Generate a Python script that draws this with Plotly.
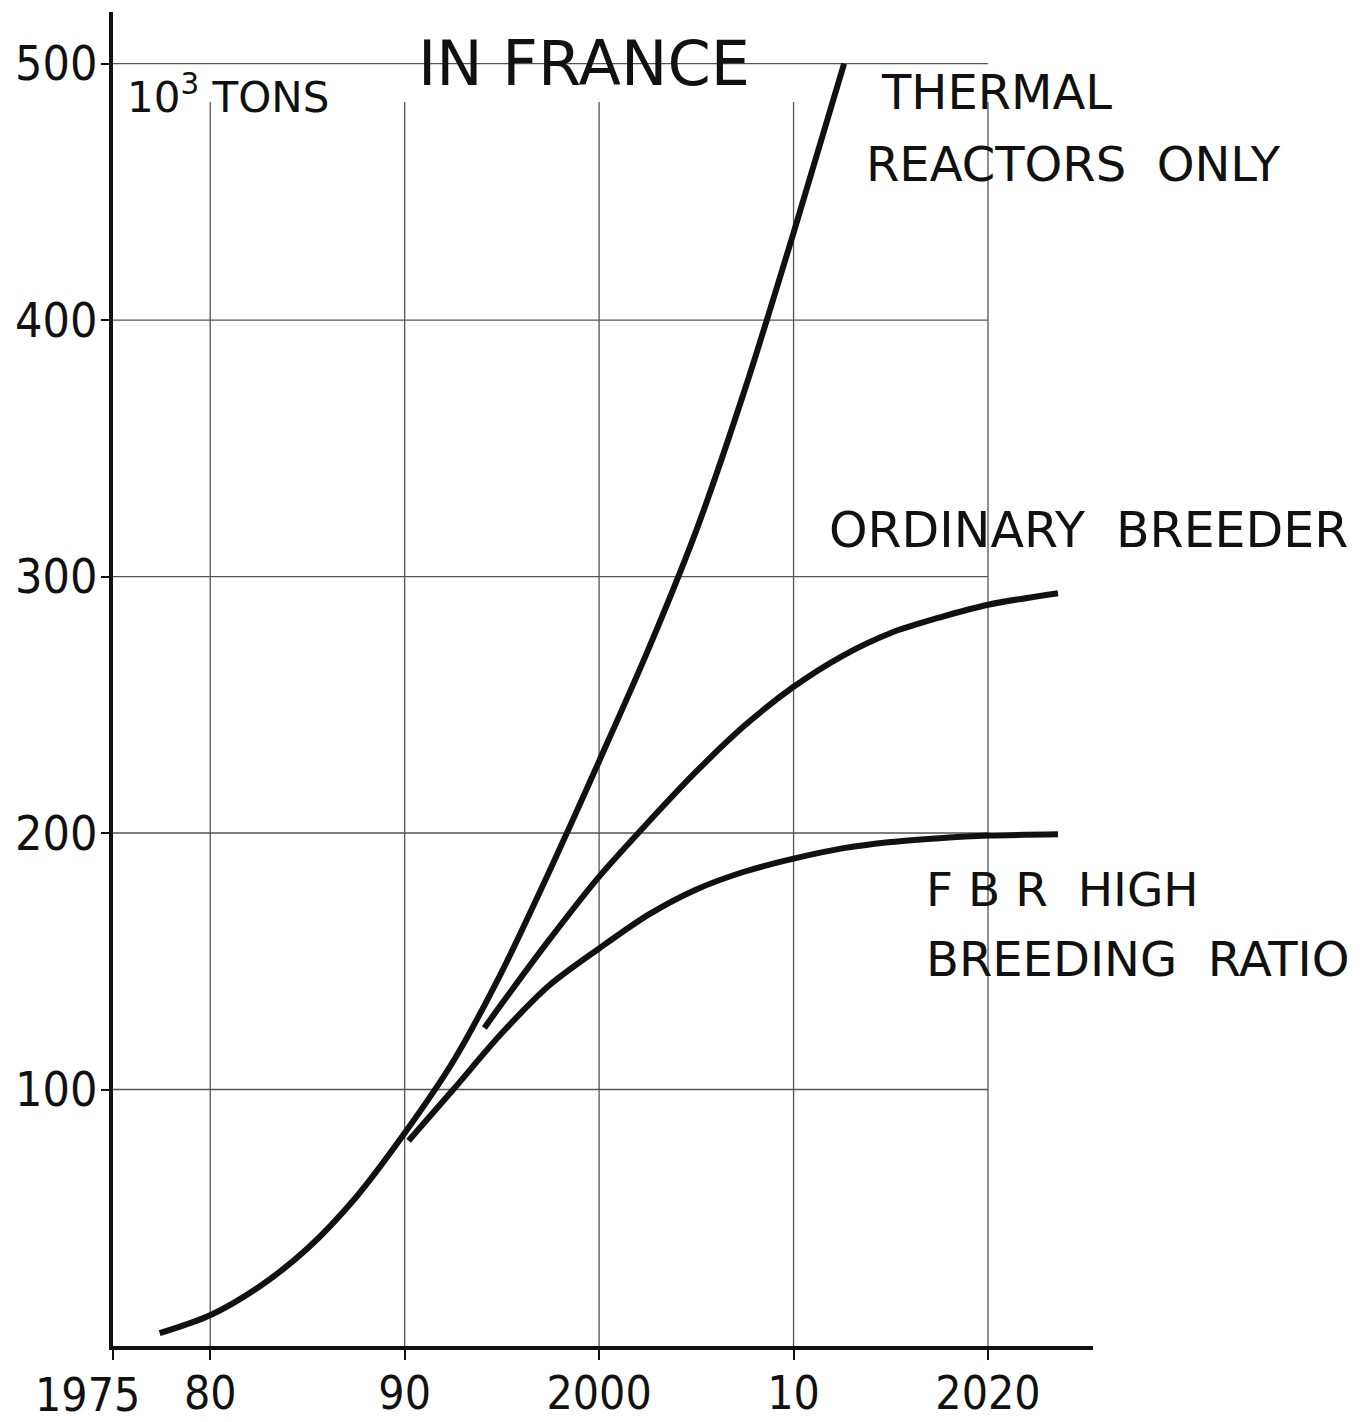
import plotly.graph_objects as go

# ---- data ----
thermal_years = [1977.4, 1980, 1982.5, 1985, 1987.5, 1990, 1992.5, 1995, 1997.5,
                 2000, 2002.5, 2005, 2007.5, 2010, 2012.6]
thermal_vals = [5, 12, 23, 38, 58, 83, 111, 146, 186, 228, 271, 318, 373, 434, 500]

ordinary_years = [1994.1, 1995, 1997.5, 2000, 2002.5, 2005, 2007.5, 2010, 2012.5,
                  2015, 2017.5, 2020, 2023.6]
ordinary_vals = [124, 133.5, 159, 183, 204, 224, 242, 257, 269, 278, 284, 289, 293.5]

fbr_years = [1990.2, 1992.5, 1995, 1997.5, 2000, 2002.5, 2005, 2007.5, 2010,
             2012.5, 2015, 2017.5, 2020, 2023.6]
fbr_vals = [80, 100, 122, 141, 155, 168, 178, 185, 190, 194, 196.5, 198, 199, 199.5]

x_tick_vals = [1975, 1980, 1990, 2000, 2010, 2020]
x_tick_text = ["1975", "80", "90", "2000", "10", "2020"]
y_tick_vals = [100, 200, 300, 400, 500]
y_tick_text = ["100", "200", "300", "400", "500"]

INK = "#111111"
GRID = "#555555"

fig = go.Figure()

for xs, ys in [(thermal_years, thermal_vals), (ordinary_years, ordinary_vals), (fbr_years, fbr_vals)]:
    fig.add_trace(go.Scatter(x=xs, y=ys, mode="lines",
                             line=dict(color=INK, width=6, shape="spline", smoothing=0.8),
                             showlegend=False, hoverinfo="skip"))

shapes = []
# horizontal grid lines (to 2020)
for v in y_tick_vals:
    shapes.append(dict(type="line", xref="x", yref="y", x0=x_tick_vals[0], x1=x_tick_vals[-1],
                       y0=v, y1=v, line=dict(color=GRID, width=1.3), layer="below"))
# vertical grid lines
for v in x_tick_vals[1:]:
    shapes.append(dict(type="line", xref="x", yref="y", x0=v, x1=v, y0=0, y1=485,
                       line=dict(color=GRID, width=1.3), layer="below"))

xtick_font = dict(family="DejaVu Sans Condensed", size=46, color=INK)
label_font = dict(family="DejaVu Sans", size=48, color=INK)
annotations = [
    # first x tick label sits left of its tick in the original drawing
    dict(x=x_tick_vals[0], y=0, xref="x", yref="y", xanchor="center", yanchor="top",
         xshift=-26, yshift=-20, text=x_tick_text[0], showarrow=False, font=xtick_font),
    dict(x=1975.6, y=488, xref="x", yref="y", xanchor="left", yanchor="middle",
         text="10<sup>3</sup> TONS", showarrow=False,
         font=dict(family="DejaVu Sans", size=42, color=INK)),
    dict(x=1999.2, y=500, xref="x", yref="y", xanchor="center", yanchor="middle",
         text="IN FRANCE", showarrow=False,
         font=dict(family="DejaVu Sans", size=62, color=INK)),
    dict(x=2014.4, y=489, xref="x", yref="y", xanchor="left", yanchor="middle",
         text="THERMAL", showarrow=False, font=label_font),
    dict(x=2013.6, y=461, xref="x", yref="y", xanchor="left", yanchor="middle",
         text="REACTORS\u00a0\u00a0ONLY", showarrow=False, font=label_font),
    dict(x=2011.7, y=318, xref="x", yref="y", xanchor="left", yanchor="middle",
         text="ORDINARY\u00a0\u00a0BREEDER", showarrow=False,
         font=dict(family="DejaVu Sans", size=49, color=INK)),
    dict(x=2016.7, y=178, xref="x", yref="y", xanchor="left", yanchor="middle",
         text="F\u00a0B\u00a0R\u00a0\u00a0HIGH", showarrow=False,
         font=dict(family="DejaVu Sans", size=47, color=INK)),
    dict(x=2016.7, y=151, xref="x", yref="y", xanchor="left", yanchor="middle",
         text="BREEDING\u00a0\u00a0RATIO", showarrow=False,
         font=dict(family="DejaVu Sans", size=48, color=INK)),
]

x_tick_text_axis = [""] + x_tick_text[1:]

# The page body adds an 8 px offset, so the figure is sized to fit the window.
fig.update_layout(
    width=1360, height=1414,
    margin=dict(l=105, r=275, t=4, b=76),
    paper_bgcolor="white", plot_bgcolor="white",
    shapes=shapes, annotations=annotations,
    xaxis=dict(range=[1975, 2025.4], tickmode="array", tickvals=x_tick_vals, ticktext=x_tick_text_axis,
               showgrid=False, zeroline=False, showline=True, linecolor=INK, linewidth=4,
               ticks="outside", ticklen=10, tickwidth=2, tickcolor=INK, automargin=False,
               tickfont=xtick_font, ticklabelstandoff=-6),
    yaxis=dict(range=[0, 520.1], tickmode="array", tickvals=y_tick_vals, ticktext=y_tick_text,
               showgrid=False, zeroline=False, showline=True, linecolor=INK, linewidth=4,
               ticks="outside", ticklen=8, tickwidth=2, tickcolor=INK, automargin=False,
               tickfont=dict(family="DejaVu Sans Condensed", size=48, color=INK),
               ticklabelstandoff=-6),
)

fig.write_html("out.html")
